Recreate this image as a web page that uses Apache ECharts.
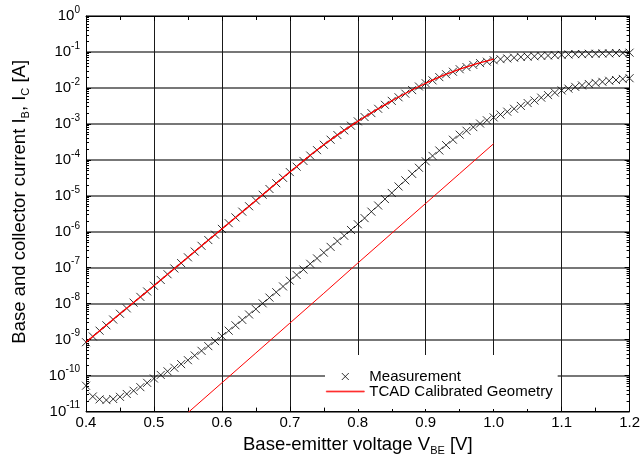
<!DOCTYPE html>
<html>
<head>
<meta charset="utf-8">
<script src="https://cdn.jsdelivr.net/npm/echarts@6/dist/echarts.min.js"></script>
<style>
  html, body { margin: 0; padding: 0; background: #fff; }
  #chart { width: 643px; height: 461px; }
</style>
</head>
<body>
<div id="chart"></div>
<script>
// V_BE sweep of the measurement, 0.40 ... 1.20 V in 10 mV steps
const vMeas = [
  0.40, 0.41, 0.42, 0.43, 0.44, 0.45, 0.46, 0.47, 0.48, 0.49,
  0.50, 0.51, 0.52, 0.53, 0.54, 0.55, 0.56, 0.57, 0.58, 0.59,
  0.60, 0.61, 0.62, 0.63, 0.64, 0.65, 0.66, 0.67, 0.68, 0.69,
  0.70, 0.71, 0.72, 0.73, 0.74, 0.75, 0.76, 0.77, 0.78, 0.79,
  0.80, 0.81, 0.82, 0.83, 0.84, 0.85, 0.86, 0.87, 0.88, 0.89,
  0.90, 0.91, 0.92, 0.93, 0.94, 0.95, 0.96, 0.97, 0.98, 0.99,
  1.00, 1.01, 1.02, 1.03, 1.04, 1.05, 1.06, 1.07, 1.08, 1.09,
  1.10, 1.11, 1.12, 1.13, 1.14, 1.15, 1.16, 1.17, 1.18, 1.19, 1.20
]
// log10 of measured collector current I_C [A]
const logIcMeas = [
  -9.07, -8.91, -8.75, -8.60, -8.44, -8.28, -8.13, -7.97, -7.81, -7.66,
  -7.50, -7.34, -7.18, -7.02, -6.87, -6.71, -6.55, -6.39, -6.23, -6.08,
  -5.92, -5.76, -5.60, -5.44, -5.29, -5.13, -4.97, -4.81, -4.65, -4.50,
  -4.34, -4.19, -4.03, -3.88, -3.73, -3.58, -3.44, -3.31, -3.18, -3.05,
  -2.93, -2.81, -2.70, -2.58, -2.47, -2.36, -2.26, -2.16, -2.06, -1.96,
  -1.87, -1.79, -1.70, -1.62, -1.55, -1.48, -1.42, -1.36, -1.31, -1.27,
  -1.23, -1.20, -1.18, -1.16, -1.14, -1.13, -1.12, -1.11, -1.10, -1.09,
  -1.08, -1.07, -1.06, -1.06, -1.05, -1.05, -1.04, -1.04, -1.03, -1.03, -1.02
]
// log10 of measured base current I_B [A]
const logIbMeas = [
  -10.28, -10.58, -10.66, -10.68, -10.65, -10.59, -10.51, -10.42, -10.32, -10.20,
  -10.08, -9.98, -9.88, -9.78, -9.68, -9.57, -9.44, -9.31, -9.18, -9.04,
  -8.90, -8.75, -8.60, -8.45, -8.30, -8.15, -7.99, -7.83, -7.68, -7.52,
  -7.36, -7.20, -7.05, -6.89, -6.74, -6.58, -6.42, -6.26, -6.11, -5.95,
  -5.79, -5.62, -5.44, -5.27, -5.09, -4.92, -4.74, -4.57, -4.39, -4.22,
  -4.04, -3.89, -3.74, -3.59, -3.44, -3.30, -3.19, -3.09, -2.99, -2.90,
  -2.82, -2.74, -2.66, -2.58, -2.50, -2.42, -2.35, -2.27, -2.20, -2.13,
  -2.07, -2.02, -1.97, -1.93, -1.89, -1.86, -1.83, -1.80, -1.78, -1.75, -1.73
]
// TCAD (calibrated geometry)
const vSimIc = [0.40, 0.45, 0.50, 0.55, 0.60, 0.65, 0.70, 0.75, 0.80, 0.85, 0.90, 0.95, 1.00]
const logIcSim = [-9.07, -8.28, -7.50, -6.71, -5.92, -5.13, -4.34, -3.58, -2.93, -2.36, -1.87, -1.48, -1.20]
const vSimIb = [0.55, 0.60, 0.65, 0.70, 0.75, 0.80, 0.85, 0.90, 0.95, 1.00]
const logIbSim = [-11.03, -10.20, -9.37, -8.54, -7.71, -6.87, -6.04, -5.21, -4.38, -3.55]

const xTicks = [0.4, 0.5, 0.6, 0.7, 0.8, 0.9, 1.0, 1.1, 1.2]
const FONT = 'Liberation Sans, Arial, sans-serif'
const CROSS = 'path://M0 0L10 10M10 0L0 10'

const pts = (xs, logs) => xs.map((x, i) => [x, Math.pow(10, logs[i])])

const chart = echarts.init(document.getElementById('chart'))

const yLabelRich = {
  b: { fontSize: 15, fontFamily: FONT, color: '#000' },
  sup: { fontSize: 10, fontFamily: FONT, color: '#000', padding: [0, 0, 12, 0] },
}
const titleRich = {
  sub: { fontSize: 11, fontFamily: FONT, color: '#000', padding: [11, 0, 0, 0] },
}

const baseY = {
  type: 'log',
  logBase: 10,
  min: 1e-11,
  max: 1,
  interval: 1,
  axisLine: { show: true, onZero: false, lineStyle: { color: '#000', width: 1 } },
  axisTick: { show: true, inside: true, length: 5, lineStyle: { color: '#000' } },
  minorTick: { show: true, splitNumber: 9, length: 3, lineStyle: { color: '#000' } },
}

chart.setOption({
  animation: false,
  backgroundColor: '#fff',
  textStyle: { fontFamily: FONT },
  grid: { left: 86, right: 13, top: 16, bottom: 48 },
  legend: {
    orient: 'vertical',
    left: 325,
    top: 355,
    padding: [14, 5, 10, 1],
    itemGap: 0,
    itemWidth: 38,
    itemHeight: 7,
    backgroundColor: '#fff',
    textStyle: { fontSize: 15, color: '#000', fontFamily: FONT },
    data: [
      {
        name: 'Measurement',
        icon: CROSS,
        itemStyle: { color: 'transparent', borderColor: '#000', borderWidth: 1 },
      },
      {
        name: 'TCAD Calibrated Geometry',
        icon: 'path://M0 0L38 0L38 1.2L0 1.2Z',
        itemStyle: { color: '#ff3030', borderColor: '#ff3030', borderWidth: 0.6 },
      },
    ],
  },
  xAxis: [
    {
      type: 'value',
      min: 0.4,
      max: 1.2,
      interval: 0.1,
      name: 'Base-emitter voltage V{sub|BE} [V]',
      nameLocation: 'middle',
      nameGap: 20,
      nameTextStyle: { fontSize: 18.5, color: '#000', fontFamily: FONT, rich: titleRich },
      axisLine: { onZero: false, lineStyle: { color: '#000', width: 1 } },
      axisTick: { inside: true, length: 5, lineStyle: { color: '#000' } },
      minorTick: { show: true, splitNumber: 2, length: 4, lineStyle: { color: '#000' } },
      axisLabel: {
        fontSize: 15, color: '#000', margin: 4,
        formatter: v => xTicks.some(t => Math.abs(t - v) < 1e-6) ? v.toFixed(1) : '',
      },
      splitLine: { show: true, lineStyle: { color: '#1a1a1a', width: 1 } },
    },
    {
      type: 'value',
      position: 'top',
      min: 0.4,
      max: 1.2,
      interval: 0.1,
      axisLine: { onZero: false, lineStyle: { color: '#000', width: 1 } },
      axisTick: { inside: true, length: 5, lineStyle: { color: '#000' } },
      minorTick: { show: true, splitNumber: 2, length: 4, lineStyle: { color: '#000' } },
      axisLabel: { show: false },
      splitLine: { show: false },
    },
  ],
  yAxis: [
    Object.assign({}, baseY, {
      position: 'left',
      name: 'Base and collector current I{sub|B}, I{sub|C} [A]',
      nameLocation: 'middle',
      nameGap: 55,
      nameTextStyle: {
        fontSize: 18.5, color: '#000', fontFamily: FONT, rich: titleRich,
        padding: [0, 0, 0, 24],
      },
      axisLabel: {
        margin: 6,
        formatter: v => '{b|10}{sup|' + Math.round(Math.log10(v)) + '}',
        rich: yLabelRich,
      },
      splitLine: { show: true, lineStyle: { color: '#777', width: 2 } },
    }),
    Object.assign({}, baseY, {
      position: 'right',
      axisLabel: { show: false },
      splitLine: { show: false },
    }),
  ],
  series: [
    {
      name: 'Measurement',
      type: 'scatter',
      symbol: CROSS,
      symbolSize: 8,
      itemStyle: { color: 'transparent', borderColor: '#000', borderWidth: 1 },
      data: pts(vMeas, logIcMeas),
      z: 3,
    },
    {
      name: 'Measurement',
      type: 'scatter',
      symbol: CROSS,
      symbolSize: 8,
      itemStyle: { color: 'transparent', borderColor: '#000', borderWidth: 1 },
      data: pts(vMeas, logIbMeas),
      z: 3,
    },
    {
      name: 'TCAD Calibrated Geometry',
      type: 'line',
      smooth: true,
      showSymbol: false,
      symbol: 'none',
      color: '#ff0000',
      lineStyle: { color: '#ff0000', width: 1.3 },
      itemStyle: { color: '#ff0000' },
      data: pts(vSimIc, logIcSim),
      z: 4,
    },
    {
      name: 'TCAD Calibrated Geometry',
      type: 'line',
      showSymbol: false,
      symbol: 'none',
      clip: true,
      color: '#ff0000',
      lineStyle: { color: '#ff0000', width: 1 },
      itemStyle: { color: '#ff0000' },
      data: pts(vSimIb, logIbSim),
      z: 4,
    },
  ],
})
</script>
</body>
</html>
